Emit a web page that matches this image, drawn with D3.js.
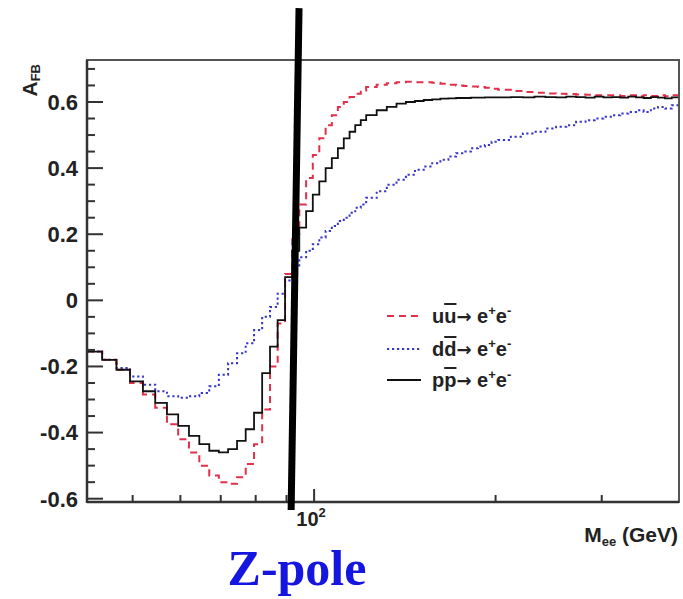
<!DOCTYPE html>
<html>
<head>
<meta charset="utf-8">
<script src="https://cdn.jsdelivr.net/npm/d3@7/dist/d3.min.js"></script>
<style>
  html, body { margin: 0; padding: 0; background: #fff; }
  svg { display: block; }
  text { font-family: "Liberation Sans", Arial, Helvetica, sans-serif; }
</style>
</head>
<body>
<svg id="chart" width="683" height="599"></svg>
<script>
// ---- data ----
// histogram bin edges in M_ee (GeV)
const binEdges = [42, 44.5, 47, 49.5, 52, 54.5, 57, 59.5, 62, 64.5, 67, 69.5, 72, 74.5, 77, 79.5,
  82, 84.5, 87, 89.5, 92, 94.5, 97, 99.5, 102, 104.5, 107, 109.5, 112, 114.5, 117, 119.5, 122,
  127, 132, 137, 142, 147, 152, 157, 162, 167, 172, 177, 182, 187, 192, 197, 202,
  212, 222, 232, 242, 252, 262, 272, 282, 292, 302, 312, 322, 332, 342, 352, 362, 372, 382, 392, 402];

// u ubar -> e+e-  (red dashed)
const uuValues = [-0.155, -0.18, -0.21, -0.25, -0.285, -0.325, -0.375, -0.42, -0.46, -0.50, -0.53, -0.55, -0.555, -0.535, -0.495, -0.435,
  -0.33, -0.20, -0.07, 0.08, 0.20, 0.29, 0.37, 0.44, 0.49, 0.53, 0.56, 0.585, 0.60, 0.615, 0.625, 0.635,
  0.645, 0.652, 0.657, 0.66, 0.661, 0.66, 0.66, 0.658, 0.655, 0.652, 0.65, 0.648, 0.647, 0.645, 0.643, 0.64,
  0.637, 0.633, 0.63, 0.628, 0.626, 0.625, 0.624, 0.623, 0.622, 0.62, 0.62, 0.62, 0.618, 0.62, 0.617, 0.62, 0.618, 0.62, 0.617, 0.62];

// d dbar -> e+e-  (blue dotted)
const ddValues = [-0.155, -0.18, -0.205, -0.23, -0.255, -0.275, -0.29, -0.295, -0.29, -0.28, -0.26, -0.225, -0.19, -0.16, -0.13, -0.09,
  -0.05, -0.02, 0.02, 0.06, 0.10, 0.13, 0.15, 0.17, 0.19, 0.21, 0.225, 0.24, 0.25, 0.265, 0.28, 0.29,
  0.31, 0.33, 0.35, 0.365, 0.38, 0.395, 0.405, 0.415, 0.425, 0.435, 0.445, 0.45, 0.46, 0.465, 0.47, 0.48,
  0.485, 0.495, 0.505, 0.51, 0.52, 0.525, 0.53, 0.54, 0.545, 0.55, 0.555, 0.56, 0.565, 0.57, 0.575, 0.57, 0.58, 0.585, 0.58, 0.59];

// p pbar -> e+e-  (black solid)
const ppValues = [-0.155, -0.18, -0.21, -0.245, -0.275, -0.31, -0.345, -0.38, -0.41, -0.435, -0.455, -0.46, -0.45, -0.425, -0.39, -0.34,
  -0.22, -0.14, -0.06, 0.07, 0.15, 0.22, 0.27, 0.32, 0.36, 0.40, 0.43, 0.46, 0.49, 0.51, 0.53, 0.545,
  0.56, 0.575, 0.585, 0.595, 0.60, 0.603, 0.606, 0.608, 0.61, 0.611, 0.612, 0.612, 0.613, 0.613, 0.614, 0.614,
  0.614, 0.615, 0.614, 0.616, 0.615, 0.614, 0.616, 0.615, 0.613, 0.616, 0.614, 0.615, 0.613, 0.616, 0.614, 0.612, 0.615, 0.613, 0.611, 0.614];

const yTicks = [-0.6, -0.4, -0.2, 0, 0.2, 0.4, 0.6];
const yTickLabels = ["-0.6", "-0.4", "-0.2", "0", "0.2", "0.4", "0.6"];
const yMinorTicks = [-0.55, -0.5, -0.45, -0.35, -0.3, -0.25, -0.15, -0.1, -0.05, 0.05, 0.1, 0.15, 0.25, 0.3, 0.35, 0.45, 0.5, 0.55, 0.65, 0.7];
const xMajorTicks = [100];
const xMinorTicks = [50, 60, 70, 80, 90, 200, 300];

// Z-pole annotation line (two ends, in data units)
const zPoleLine = [{ m: 94.4, a: 0.884 }, { m: 91.6, a: -0.634 }];

const legendEntries = [
  { q: "u", color: "#e0304a", dash: "7,5" },
  { q: "d", color: "#3535c8", dash: "2.2,2.8" },
  { q: "p", color: "#111", dash: null }
];

// ---- chart ----
const svg = d3.select("#chart");
const plot = { left: 87, right: 679, top: 60, bottom: 502 };

const x = d3.scaleLog().domain([42, 403]).range([plot.left, plot.right]);
const y = d3.scaleLinear().domain([-0.61, 0.727]).range([plot.bottom, plot.top]);

svg.append("defs").append("clipPath").attr("id", "clip")
  .append("rect").attr("x", plot.left).attr("y", plot.top)
  .attr("width", plot.right - plot.left).attr("height", plot.bottom - plot.top);

function stepPoints(values) {
  const pts = values.map((v, i) => [binEdges[i], v]);
  pts.push([binEdges[values.length], values[values.length - 1]]);
  return pts;
}
const stepLine = d3.line().x(d => x(d[0])).y(d => y(d[1])).curve(d3.curveStepAfter);

const g = svg.append("g").attr("clip-path", "url(#clip)");
g.append("path").attr("d", stepLine(stepPoints(ddValues)))
  .attr("fill", "none").attr("stroke", legendEntries[1].color).attr("stroke-width", 2)
  .attr("stroke-dasharray", legendEntries[1].dash);
g.append("path").attr("d", stepLine(stepPoints(uuValues)))
  .attr("fill", "none").attr("stroke", legendEntries[0].color).attr("stroke-width", 2)
  .attr("stroke-dasharray", legendEntries[0].dash);
g.append("path").attr("d", stepLine(stepPoints(ppValues)))
  .attr("fill", "none").attr("stroke", legendEntries[2].color).attr("stroke-width", 1.8);

// frame
svg.append("rect").attr("x", plot.left).attr("y", plot.top)
  .attr("width", plot.right - plot.left).attr("height", plot.bottom - plot.top)
  .attr("fill", "none").attr("stroke", "#555").attr("stroke-width", 2);
svg.append("line").attr("x1", plot.left).attr("x2", plot.left).attr("y1", plot.top).attr("y2", plot.bottom + 1)
  .attr("stroke", "#333").attr("stroke-width", 2.5);
svg.append("line").attr("x1", plot.left).attr("x2", plot.right).attr("y1", plot.bottom).attr("y2", plot.bottom)
  .attr("stroke", "#333").attr("stroke-width", 2.5);

// y axis ticks (inside)
const yAx = svg.append("g");
yAx.selectAll("line.maj").data(yTicks).join("line").attr("class", "maj")
  .attr("x1", plot.left).attr("x2", plot.left + 16)
  .attr("y1", d => y(d)).attr("y2", d => y(d)).attr("stroke", "#333").attr("stroke-width", 2);
yAx.selectAll("line.min").data(yMinorTicks).join("line").attr("class", "min")
  .attr("x1", plot.left).attr("x2", plot.left + 8)
  .attr("y1", d => y(d)).attr("y2", d => y(d)).attr("stroke", "#333").attr("stroke-width", 2);
yAx.selectAll("text").data(yTicks).join("text")
  .attr("x", 78).attr("y", d => y(d)).attr("dy", "0.36em")
  .attr("text-anchor", "end").attr("font-size", 22).attr("font-weight", "bold").attr("fill", "#222")
  .text((d, i) => yTickLabels[i]);

// x axis ticks (inside)
const xAx = svg.append("g");
xAx.selectAll("line.maj").data(xMajorTicks).join("line").attr("class", "maj")
  .attr("x1", d => x(d)).attr("x2", d => x(d))
  .attr("y1", plot.bottom).attr("y2", plot.bottom - 13).attr("stroke", "#333").attr("stroke-width", 2);
xAx.selectAll("line.min").data(xMinorTicks).join("line").attr("class", "min")
  .attr("x1", d => x(d)).attr("x2", d => x(d))
  .attr("y1", plot.bottom).attr("y2", plot.bottom - 7).attr("stroke", "#333").attr("stroke-width", 2);
const xl = xAx.selectAll("text").data(xMajorTicks).join("text")
  .attr("x", d => x(d) - 3).attr("y", 526)
  .attr("text-anchor", "middle").attr("font-size", 20).attr("font-weight", "bold").attr("fill", "#222");
xl.append("tspan").text("10");
xl.append("tspan").attr("font-size", 13).attr("dy", -9).text("2");

// axis titles
const yt = svg.append("text")
  .attr("transform", "translate(37,64) rotate(-90)")
  .attr("text-anchor", "end").attr("font-size", 21).attr("font-weight", "bold").attr("fill", "#222");
yt.append("tspan").text("A");
yt.append("tspan").attr("font-size", 13).attr("dy", 3).text("FB");

const xt = svg.append("text")
  .attr("x", 678).attr("y", 542)
  .attr("text-anchor", "end").attr("font-size", 21).attr("font-weight", "bold").attr("fill", "#222");
xt.append("tspan").text("M");
xt.append("tspan").attr("font-size", 13).attr("dy", 4).text("ee");
xt.append("tspan").attr("dy", -4).text(" (GeV)");

// legend
const leg = svg.append("g");
const legY = [316, 349, 380];
legendEntries.forEach((e, i) => {
  leg.append("line").attr("x1", 387).attr("x2", 421).attr("y1", legY[i]).attr("y2", legY[i])
    .attr("stroke", e.color).attr("stroke-width", 2).attr("stroke-dasharray", e.dash);
  const t = leg.append("text").attr("x", 432).attr("y", legY[i] + 7)
    .attr("font-size", 20).attr("font-weight", "bold").attr("fill", "#222");
  t.append("tspan").text(e.q);
  t.append("tspan").style("text-decoration", "overline").text(e.q);
  t.append("tspan").style("font-family", "'DejaVu Sans', sans-serif").attr("font-size", 18).text("\u2192");
  t.append("tspan").text(" e");
  t.append("tspan").attr("font-size", 13).attr("dy", -8).text("+");
  t.append("tspan").attr("dy", 8).text("e");
  t.append("tspan").attr("font-size", 13).attr("dy", -8).text("-");
});

// Z-pole annotation
svg.append("line")
  .attr("x1", x(zPoleLine[0].m)).attr("y1", y(zPoleLine[0].a))
  .attr("x2", x(zPoleLine[1].m)).attr("y2", y(zPoleLine[1].a))
  .attr("stroke", "#000").attr("stroke-width", 7);
svg.append("text").attr("x", 297).attr("y", 585)
  .attr("text-anchor", "middle")
  .style("font-family", "'Liberation Serif', 'Times New Roman', serif")
  .attr("font-size", 50).attr("font-weight", "bold").attr("fill", "#1515e0")
  .text("Z-pole");
</script>
</body>
</html>
